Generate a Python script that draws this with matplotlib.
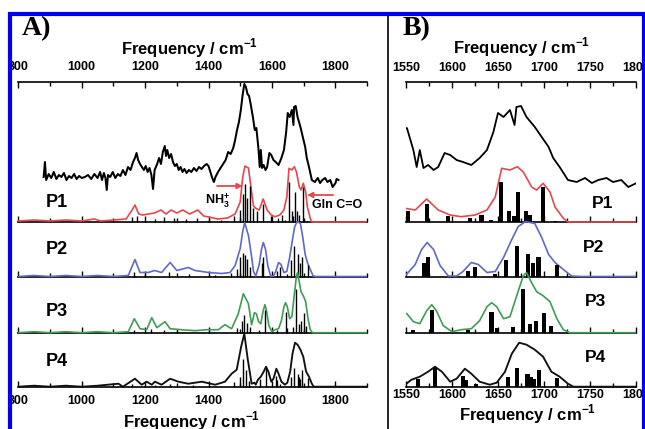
import matplotlib
matplotlib.use('Agg')
import matplotlib.pyplot as plt
from matplotlib.patches import Rectangle
from matplotlib.lines import Line2D
from matplotlib.ticker import MultipleLocator

plt.rcParams['font.family'] = ['Liberation Sans', 'DejaVu Sans']
plt.rcParams['mathtext.fontset'] = 'custom'
plt.rcParams['mathtext.rm'] = 'Liberation Sans'
plt.rcParams['mathtext.bf'] = 'Liberation Sans:bold'

# ---------------- data ----------------
series_names = ['P1', 'P2', 'P3', 'P4']

# experimental spectrum (arbitrary intensity units)
exp_freq = [880, 884, 888, 896, 904, 912, 920, 928, 936, 944, 952, 960, 968, 976, 984, 992,
            1000, 1010, 1020, 1030, 1040, 1050, 1058, 1064, 1070, 1075, 1079, 1083, 1090, 1098,
            1106, 1114, 1122, 1130, 1138, 1146, 1154, 1162, 1168, 1173, 1178, 1184, 1190, 1196,
            1202, 1208, 1214, 1220, 1225, 1230, 1238, 1244, 1250, 1256, 1262, 1266, 1270, 1276,
            1282, 1288, 1294, 1300, 1306, 1312, 1318, 1324, 1331, 1338, 1346, 1354, 1362, 1370,
            1378, 1386, 1394, 1400, 1406, 1412, 1417, 1422, 1430, 1438, 1446, 1454, 1462, 1470,
            1478, 1484, 1490, 1496, 1502, 1508, 1513, 1518, 1523, 1528, 1533, 1540, 1546,
            1551, 1558, 1561.6, 1565, 1569, 1574, 1580, 1585, 1592, 1598, 1605, 1612, 1621, 1630,
            1638, 1645, 1650, 1656, 1663, 1668, 1670, 1675, 1681, 1690, 1697.5, 1705, 1710, 1717,
            1726, 1735.5, 1744.6, 1752, 1759, 1768, 1775, 1784, 1791.6, 1800.7, 1804, 1810]
exp_int = [45, 60, 42, 48, 44, 50, 43, 47, 45, 49, 42, 46, 44, 48, 43, 46,
           44, 45, 47, 43, 48, 44, 50, 42, 49, 44, 32, 47, 45, 50,
           44, 48, 46, 52, 47, 55, 52, 60, 64, 69, 62, 58, 55, 52,
           56, 50, 54, 47, 33, 52, 58, 64, 58, 70, 76, 66, 72, 64,
           68, 60, 56, 58, 52, 55, 50, 53, 49, 52, 50, 54, 51, 55,
           53, 56, 58, 56, 50, 44, 40, 45, 50, 54, 58, 62, 70, 68,
           74, 82, 92, 100, 112, 128, 138, 135, 128, 126, 118, 105, 92,
           94, 72, 55, 72, 54, 57, 52, 55, 69, 67, 62, 60, 57, 64,
           72, 90, 109, 105, 112, 97, 115, 116, 105, 95, 85, 75, 64, 55,
           42, 40, 44, 39, 42, 44, 40, 42, 35, 39, 43, 42]

# calculated (broadened) spectra
p1_freq = [800, 850, 900, 950, 1000, 1040, 1060, 1100, 1140, 1155, 1168, 1180, 1192, 1210, 1230,
           1250, 1266, 1282, 1300, 1319, 1340, 1366, 1385, 1400, 1429, 1460, 1484, 1500, 1508,
           1515, 1526, 1536, 1542, 1549, 1560, 1572.5, 1585, 1598, 1610, 1625, 1638, 1647, 1654,
           1663, 1671, 1677.5, 1686.6, 1692, 1699, 1706.5, 1712, 1721, 1726, 1900]
p1_int = [1, 2, 1, 2, 1, 3, 1, 2, 3, 10, 17, 8, 7, 8, 9,
          12, 8, 12, 9, 12, 8, 12, 6, 5, 3, 4, 8, 20, 45,
          56, 54, 30, 16, 13.7, 12, 23, 12, 7, 5.3, 7, 12, 25, 53.7,
          52, 55.3, 50, 35, 32, 38.7, 30, 15, 3.7, 0, 0]

p2_freq = [800, 850, 900, 950, 1000, 1050, 1100, 1147, 1168, 1184, 1210, 1230, 1252, 1279, 1300,
           1336, 1358, 1400, 1442, 1468, 1484, 1500, 1508, 1514, 1526, 1536, 1542, 1549, 1560,
           1567, 1573, 1580, 1587, 1596, 1605, 1612, 1621, 1628.6, 1638, 1647, 1656, 1665, 1672,
           1680, 1690, 1697.5, 1705, 1712, 1721, 1730, 1740, 1900]
p2_int = [0, 1, 0, 1, 0, 1, 0, 1, 17, 4, 4, 6, 4, 14, 6,
          9, 6, 4, 3, 4, 11, 28, 45, 54, 41, 20, 5, 0.5, 12,
          27, 34, 27, 11, 0.5, 0.5, 5, 14, 12, 4, 5, 19, 37, 50,
          55, 53, 39, 22, 14, 7, 0.5, 0, 0]

p3_freq = [800, 850, 900, 950, 1000, 1050, 1100, 1147, 1166, 1184, 1205, 1221, 1237, 1263, 1279,
           1315, 1358, 1394, 1431, 1452, 1473, 1494, 1510, 1526, 1536, 1545, 1551, 1558, 1565,
           1572.5, 1578, 1583, 1590.5, 1600, 1610, 1621, 1630, 1638, 1643, 1648.6, 1656, 1663,
           1670, 1677.5, 1681, 1686, 1692, 1699, 1706.5, 1714, 1721, 1728, 1900]
p3_int = [0, 1, 0, 1, 0, 1, 0, 1, 14, 4, 3, 15, 5, 11, 4,
          3, 2, 3, 3, 8, 4, 19, 39, 29, 8, 20, 19, 11, 9,
          22, 28, 22, 7, 1, 3, 4, 12, 26, 30, 26, 14, 16,
          36, 57, 60, 51, 41, 37, 31, 14, 3, 0, 0]

p4_freq = [800, 850, 900, 950, 1000, 1050, 1116, 1130, 1168, 1189, 1205, 1221, 1231, 1252, 1279,
           1305, 1336, 1379, 1421, 1452, 1473, 1489, 1503, 1513, 1524, 1536, 1545, 1549, 1556,
           1565, 1574, 1581.5, 1589, 1598, 1605, 1614, 1621, 1630, 1641, 1648.6, 1657.6, 1665,
           1673, 1681, 1690, 1699, 1708, 1717, 1726, 1732, 1900]
p4_int = [0, 1, 0, 1, 0, 1, 3, 0, 8, 2, 5, 2, 5, 2, 8,
          5, 3, 5, 2, 5, 13, 17, 40, 53, 27, 3, 4, 2, 7,
          10, 15, 20, 15, 5, 8, 18, 13, 5, 2, 4, 15, 33,
          44, 42, 37, 30, 15, 10, 3, 0, 0]

# stick spectra (normal-mode intensities)
p1_stick_f = [1160, 1175, 1230, 1260, 1290, 1330, 1365, 1400, 1440, 1480, 1500, 1508, 1515, 1522,
              1530, 1540, 1552.5, 1573, 1596, 1619.6, 1632, 1642, 1653, 1662, 1668, 1672, 1680,
              1685, 1699, 1712]
p1_stick_i = [5, 6, 3, 5, 4, 3, 4, 3, 2, 6, 12, 28, 38, 24,
              36, 14, 11, 18, 6, 4, 7, 2, 40, 11, 6, 30, 11,
              7, 35, 1]
p2_stick_f = [1165, 1200, 1275, 1340, 1420, 1470, 1490, 1500, 1508, 1515, 1522, 1530, 1570,
              1573.5, 1617, 1625, 1647, 1659, 1671, 1683, 1688, 1694, 1714]
p2_stick_i = [5, 3, 5, 3, 2, 4, 8, 20, 24, 22, 18, 10, 13.7,
              19.7, 5.3, 9.3, 3, 16.3, 31, 23, 13.3, 19.3, 11.7]
p3_stick_f = [1165, 1220, 1260, 1300, 1400, 1490, 1505, 1512, 1520, 1530, 1558, 1578, 1617,
              1643, 1648.6, 1666.6, 1677.5, 1685, 1691, 1700, 1707.6]
p3_stick_i = [3, 4, 3, 2, 2, 5, 12, 18, 10, 6, 2.3, 23, 2.3,
              20.7, 5, 5.7, 43.3, 8.3, 11.7, 19.7, 6.7]
p4_stick_f = [1160, 1230, 1280, 1350, 1480, 1500, 1510, 1518, 1528, 1563, 1581.5, 1611.6, 1615,
              1626, 1661, 1671, 1682, 1686, 1689, 1695, 1714]
p4_stick_i = [3, 2, 3, 2, 5, 10, 28, 17, 6, 7.3, 18.3, 10.7, 6.7,
              2.3, 9.3, 18.3, 12.7, 10, 7.7, 16.7, 9]

calc_freq = [p1_freq, p2_freq, p3_freq, p4_freq]
calc_int = [p1_int, p2_int, p3_int, p4_int]
stick_f = [p1_stick_f, p2_stick_f, p3_stick_f, p4_stick_f]
stick_i = [p1_stick_i, p2_stick_i, p3_stick_i, p4_stick_i]
colors = ['#e5474f', '#6068c8', '#3f9c57', '#111111']

# ---------------- layout ----------------
W, H = 645, 429
fig = plt.figure(figsize=(W / 100, H / 100), dpi=100)
fig.patch.set_facecolor('white')


def fx(x):
    return x / W


def fy(y):
    return 1 - y / H


TOP_AXIS = 82
BASE = [222, 276.5, 332.7, 386.7]
ROW_TOP = 62
ROW_BOT = 3

panels = [
    dict(x0=18.3, x1=367, xlim=(800, 1900), major=200, minor=100, bars=False,
         top_pad=6.5, bot_pad=6.0, exp_lw=1.45),
    dict(x0=406, x1=636, xlim=(1550, 1800), major=50, minor=25, bars=True,
         top_pad=6.0, bot_pad=1.5, exp_lw=1.3),
]

for pi, P in enumerate(panels):
    wfrac = (P['x1'] - P['x0']) / W
    # experimental trace axes (top axis)
    axe = fig.add_axes([fx(P['x0']), fy(BASE[0] + ROW_BOT), wfrac,
                        (BASE[0] + ROW_BOT - TOP_AXIS) / H])
    axe.set_facecolor('none')
    axe.set_xlim(*P['xlim'])
    axe.set_ylim(-ROW_BOT, BASE[0] - TOP_AXIS)
    for s in ['left', 'right', 'bottom']:
        axe.spines[s].set_visible(False)
    axe.spines['top'].set_linewidth(1.2)
    axe.xaxis.tick_top()
    axe.xaxis.set_major_locator(MultipleLocator(P['major']))
    axe.xaxis.set_minor_locator(MultipleLocator(P['minor']))
    axe.tick_params(axis='x', which='both', direction='in', width=1.0,
                    labelsize=9, pad=P['top_pad'])
    axe.tick_params(axis='x', which='major', length=4)
    axe.tick_params(axis='x', which='minor', length=3)
    axe.set_yticks([])
    for lab in axe.get_xticklabels():
        lab.set_fontweight('bold')
    axe.plot(exp_freq, exp_int, color='black', lw=P['exp_lw'], zorder=3)

    for k in range(4):
        ax = fig.add_axes([fx(P['x0']), fy(BASE[k] + ROW_BOT), wfrac,
                           (ROW_TOP + ROW_BOT) / H])
        ax.set_facecolor('none')
        ax.set_xlim(*P['xlim'])
        ax.set_ylim(-ROW_BOT, ROW_TOP)
        for s in ['left', 'right', 'top']:
            ax.spines[s].set_visible(False)
        ax.spines['bottom'].set_position(('data', 0))
        ax.spines['bottom'].set_linewidth(1.2)
        ax.xaxis.set_major_locator(MultipleLocator(P['major']))
        ax.xaxis.set_minor_locator(MultipleLocator(P['minor']))
        ax.tick_params(axis='x', which='both', direction='in', width=1.0,
                       labelsize=9, pad=P['bot_pad'], labelbottom=(k == 3))
        ax.tick_params(axis='x', which='major', length=4)
        ax.tick_params(axis='x', which='minor', length=3)
        ax.set_yticks([])
        for lab in ax.get_xticklabels():
            lab.set_fontweight('bold')
        lw = 1.35 if k == 3 else 1.2
        ax.plot(calc_freq[k], calc_int[k], color=colors[k], lw=lw, zorder=3)
        if P['bars']:
            ax.bar(stick_f[k], stick_i[k], width=4.5, color='black', zorder=4)
        else:
            ax.vlines(stick_f[k], 0, stick_i[k], color='black', lw=1.0, zorder=4)

        if pi == 0 and k == 0:
            red = colors[0]
            ax.annotate('', xy=(1508, 36), xytext=(1427, 36),
                        arrowprops=dict(arrowstyle='-|>', color=red, lw=1.3,
                                        mutation_scale=8, shrinkA=0, shrinkB=0))
            ax.annotate('', xy=(1711, 27), xytext=(1793, 27),
                        arrowprops=dict(arrowstyle='-|>', color=red, lw=1.3,
                                        mutation_scale=8, shrinkA=0, shrinkB=0))
            ax.text(1389, 21, r'NH$_\mathbf{3}^\mathbf{+}$', fontsize=9,
                    fontweight='bold', va='center', ha='left')
            ax.text(1726, 17, 'Gln C=O', fontsize=9, fontweight='bold',
                    va='center', ha='left')

# series labels
labA = [(46, 202), (46, 250), (46, 311), (46, 362)]
labB = [(592, 204), (583, 247), (585, 302), (585, 357)]
for k, name in enumerate(series_names):
    fig.text(fx(labA[k][0]), fy(labA[k][1]), name, fontsize=13, fontweight='bold',
             ha='left', va='center')
    fig.text(fx(labB[k][0]), fy(labB[k][1]), name, fontsize=12.5, fontweight='bold',
             ha='left', va='center')

xlab = r'Frequency / cm$^{\mathbf{-1}}$'
fig.text(fx(190), fy(48), xlab, fontsize=12, fontweight='bold', ha='center', va='center')
fig.text(fx(522), fy(47), xlab, fontsize=12, fontweight='bold', ha='center', va='center')
fig.text(fx(192), fy(421), xlab, fontsize=12, fontweight='bold', ha='center', va='center')
fig.text(fx(528), fy(414), xlab, fontsize=12, fontweight='bold', ha='center', va='center')

fig.text(fx(22), fy(29), 'A)', fontsize=20, fontweight='bold', family='Liberation Serif',
         ha='left', va='center')
fig.text(fx(403), fy(29), 'B)', fontsize=20, fontweight='bold', family='Liberation Serif',
         ha='left', va='center')

# divider between panels
fig.add_artist(Line2D([fx(388), fx(388)], [fy(12), fy(429)], color='black', lw=1.2,
                      transform=fig.transFigure))

# white margin outside frame and blue frame
fig.add_artist(Rectangle((0, 0), fx(8), 1, transform=fig.transFigure,
                         facecolor='white', edgecolor='none', zorder=5))
fig.add_artist(Rectangle((0, fy(12)), 1, 1 - fy(12), transform=fig.transFigure,
                         facecolor='white', edgecolor='none', zorder=5))
fig.add_artist(Rectangle((fx(10), fy(440)), fx(644) - fx(10), fy(14) - fy(440),
                         transform=fig.transFigure, facecolor='none',
                         edgecolor='#0000f0', lw=3.0, zorder=6))

fig.savefig('out.png', dpi=100)
